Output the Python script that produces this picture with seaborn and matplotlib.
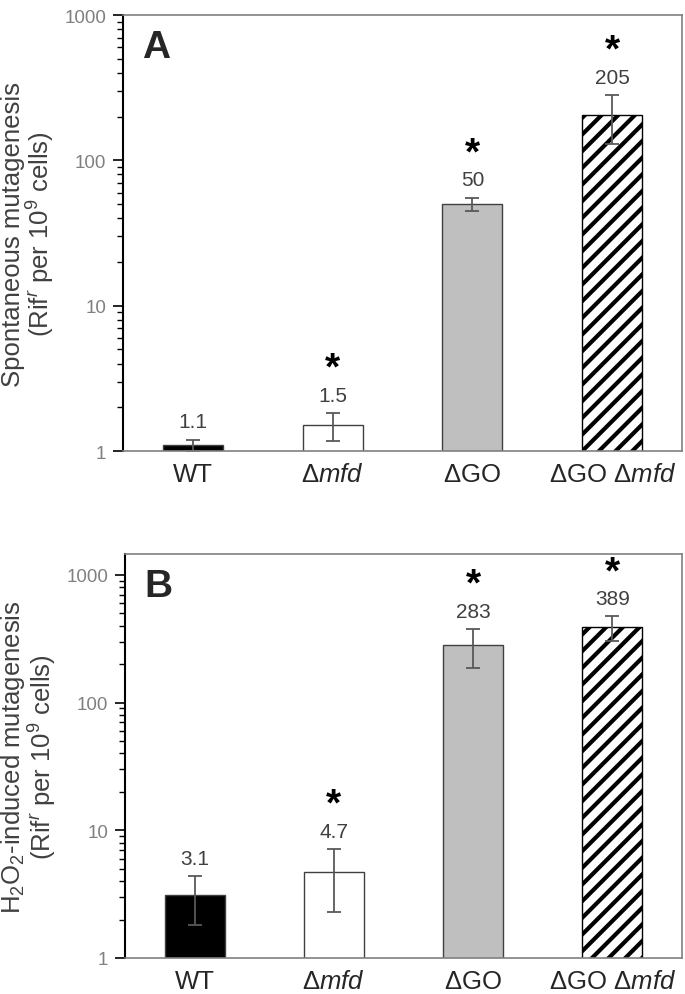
import pandas as pd
import seaborn as sns
import matplotlib.pyplot as plt
from matplotlib.ticker import LogLocator, NullFormatter, FixedLocator

strains = ['WT', r'$\Delta\mathit{mfd}$', r'$\Delta$GO', r'$\Delta$GO $\Delta\mathit{mfd}$']
spont = [1.1, 1.5, 50, 205]
spont_err = [0.1, 0.32, 5.5, 75]
spont_lbl = ['1.1', '1.5', '50', '205']
h2o2 = [3.1, 4.7, 283, 389]
h2o2_err = [1.3, 2.4, 95, 85]
h2o2_lbl = ['3.1', '4.7', '283', '389']
signif = [False, True, True, True]

bar_colors = ['black', 'white', '#bfbfbf', 'white']

sns.set_style('white')
plt.rcParams['font.family'] = ['Liberation Sans', 'DejaVu Sans']
plt.rcParams['mathtext.fontset'] = 'custom'
plt.rcParams['mathtext.rm'] = 'Liberation Sans'
plt.rcParams['mathtext.it'] = 'Liberation Sans:italic'
plt.rcParams['mathtext.bf'] = 'Liberation Sans:bold'
plt.rcParams['hatch.linewidth'] = 3.0
plt.rcParams['hatch.color'] = 'black'

fig = plt.figure(figsize=(6.85, 9.95), dpi=100)
ax_a = fig.add_axes([0.1796, 0.5457, 0.816, 0.4382])
ax_b = fig.add_axes([0.1825, 0.0362, 0.813, 0.406])


def draw_panel(ax, values, errs, labels, letter, ylabel, ytop):
    df = pd.DataFrame({'strain': strains, 'value': values})
    ax.set_yscale('log')
    sns.barplot(data=df, x='strain', y='value', hue='strain', palette=bar_colors,
                order=strains, width=0.43, edgecolor='#404040', linewidth=1.0,
                legend=False, ax=ax)
    # hatch colour follows the edge colour, so the striped bar gets a black edge
    hatched = ax.patches[3]
    hatched.set_hatch('//')
    hatched.set_edgecolor('black')
    ax.errorbar(range(len(values)), values, yerr=errs, fmt='none',
                ecolor='#595959', elinewidth=1.3, capsize=5, capthick=1.3)
    for i, (v, e, lab) in enumerate(zip(values, errs, labels)):
        ax.annotate(lab, (i, v + e), xytext=(0, 6), textcoords='offset points',
                    ha='center', va='bottom', fontsize=15, color='#404040')
        if signif[i]:
            ax.annotate('*', (i, v + e), xytext=(0, 19), textcoords='offset points',
                        ha='center', va='bottom', fontsize=28, fontweight='bold',
                        color='black')
    ax.set_ylim(1, ytop)
    ax.set_xlim(-0.5, 3.5)
    ax.yaxis.set_major_locator(FixedLocator([1, 10, 100, 1000]))
    ax.set_yticklabels(['1', '10', '100', '1000'])
    ax.yaxis.set_minor_locator(LogLocator(base=10, subs=range(2, 10)))
    ax.yaxis.set_minor_formatter(NullFormatter())
    ax.tick_params(axis='y', which='major', direction='out', length=7, width=1.2,
                   left=True, labelsize=13.5, labelcolor='#808080', color='black', pad=5)
    ax.tick_params(axis='y', which='minor', direction='out', length=4, width=1.0,
                   left=True, color='black')
    ax.tick_params(axis='x', length=0, labelsize=18.5, labelcolor='#262626', pad=8)
    ax.set_xlabel('')
    ax.set_ylabel(ylabel, fontsize=18.5, color='#404040', linespacing=1.0)
    # right edge of the two-line label sits ~66 px left of the axis
    ax.yaxis.set_label_coords(-66 / (ax.get_position().width * 685), 0.5)
    for side in ['top', 'right', 'bottom']:
        ax.spines[side].set_color('#808080')
        ax.spines[side].set_linewidth(1.2)
    ax.spines['left'].set_color('black')
    ax.spines['left'].set_linewidth(1.5)
    ax.annotate(letter, (0, 1), xycoords='axes fraction', xytext=(14, -10),
                textcoords='offset points', fontsize=28, fontweight='bold',
                va='top', ha='left')


draw_panel(ax_a, spont, spont_err, spont_lbl, 'A',
           'Spontaneous mutagenesis\n(Rif$^{r}$ per 10$^{9}$ cells)', 1000)
draw_panel(ax_b, h2o2, h2o2_err, h2o2_lbl, 'B',
           'H$_{2}$O$_{2}$-induced mutagenesis\n(Rif$^{r}$ per 10$^{9}$ cells)', 1460)

fig.savefig('out.png', dpi=100)
